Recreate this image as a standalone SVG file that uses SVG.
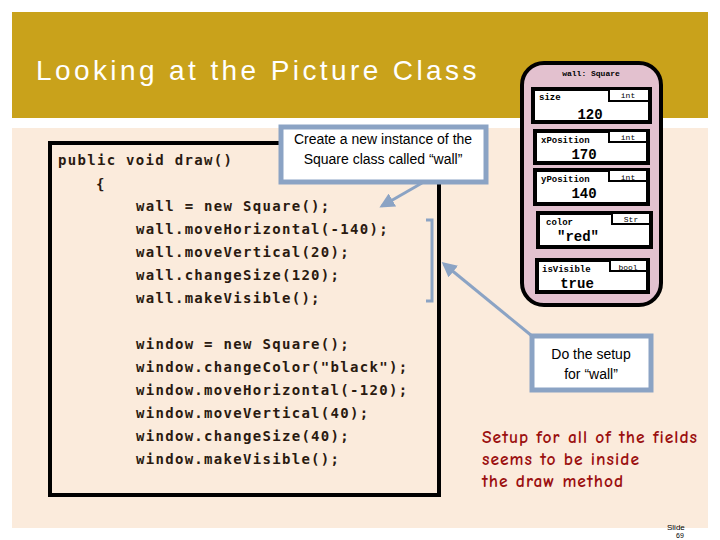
<svg xmlns="http://www.w3.org/2000/svg" width="720" height="540" viewBox="0 0 720 540">
<style>
.mono{font-family:"DejaVu Sans Mono","Liberation Mono",monospace;font-size:14px;fill:#2a1a10;font-weight:bold;letter-spacing:1.3px}
.fld{fill:#fff;stroke:#000;stroke-width:4}
.tab{fill:#fff;stroke:#000;stroke-width:2}
.fn{font-family:"Liberation Mono",monospace;font-size:9px;font-weight:bold}
.fv{font-family:"Liberation Mono",monospace;font-size:14px;font-weight:bold;text-anchor:middle}
.ty{font-family:"Liberation Mono",monospace;font-size:8px;text-anchor:middle}
.call{fill:#fff;stroke:#8ba3c4;stroke-width:5}
.ct{font-family:"Liberation Sans Narrow","Liberation Sans",sans-serif;font-size:14px;text-anchor:middle;fill:#000}
.conn{stroke:#8ba3c4;stroke-width:3;fill:none}
.red{font-family:"Comic Neue","Liberation Sans",sans-serif;font-size:17.5px;fill:#9b1010;font-weight:bold;letter-spacing:1px}
</style>
<defs><marker id="ah" markerWidth="5" markerHeight="5" refX="4" refY="2.5" orient="auto"><path d="M0,0 L5,2.5 L0,5 Z" fill="#8ba3c4"/></marker></defs>
<rect width="720" height="540" fill="#fff"/>
<rect x="12" y="12" width="696" height="106" fill="#c9a21b"/>
<rect x="12" y="128" width="696" height="400" fill="#fbebdc"/>
<text x="36" y="80" font-family="Liberation Sans Narrow,Liberation Sans,sans-serif" font-size="28" fill="#fff" letter-spacing="3.4">Looking at the Picture Class</text>
<g id="code">
<rect x="50" y="143" width="389" height="352" fill="none" stroke="#000" stroke-width="4"/>
<rect x="281" y="127" width="205" height="55" class="call"/>
<text class="mono" x="58" y="165">public void draw()</text>
<text class="mono" x="96" y="189">{</text>
<text class="mono" x="136" y="211">wall = new Square();</text>
<text class="mono" x="136" y="234">wall.moveHorizontal(-140);</text>
<text class="mono" x="136" y="257">wall.moveVertical(20);</text>
<text class="mono" x="136" y="280">wall.changeSize(120);</text>
<text class="mono" x="136" y="303">wall.makeVisible();</text>
<text class="mono" x="136" y="349">window = new Square();</text>
<text class="mono" x="136" y="372">window.changeColor("black");</text>
<text class="mono" x="136" y="395">window.moveHorizontal(-120);</text>
<text class="mono" x="136" y="418">window.moveVertical(40);</text>
<text class="mono" x="136" y="441">window.changeSize(40);</text>
<text class="mono" x="136" y="464">window.makeVisible();</text>
</g>
<g id="callout1">
<text class="ct" x="383" y="144">Create a new instance of the</text>
<text class="ct" x="383" y="164">Square class called “wall”</text>
</g>
<g id="wall">
<rect x="522" y="63" width="139" height="242" rx="22" fill="#e3c1cf" stroke="#000" stroke-width="4"/>
<text x="591" y="76" class="ty" font-weight="bold" font-size="10">wall: Square</text>
<rect class="fld" x="533" y="89" width="117" height="33"/><rect class="tab" x="609" y="89" width="40" height="12"/>
<text class="fn" x="539" y="100" font-size="11">size</text><text class="ty" x="628" y="98">int</text><text class="fv" x="590" y="119">120</text>
<rect class="fld" x="535" y="131" width="113" height="32"/><rect class="tab" x="609" y="131" width="38" height="11"/>
<text class="fn" x="541" y="143" font-size="8">xPosition</text><text class="ty" x="628" y="140">int</text><text class="fv" x="584" y="159">170</text>
<rect class="fld" x="535" y="170" width="113" height="34"/><rect class="tab" x="609" y="170" width="38" height="11"/>
<text class="fn" x="541" y="182" font-size="8">yPosition</text><text class="ty" x="628" y="180">int</text><text class="fv" x="584" y="198">140</text>
<rect class="fld" x="538" y="213" width="113" height="34"/><rect class="tab" x="612" y="213" width="38" height="11"/>
<text class="fn" x="546" y="225" font-size="8">color</text><text class="ty" x="631" y="222">Str</text><text class="fv" x="578" y="241">"red"</text>
<rect class="fld" x="537" y="260" width="111" height="32"/><rect class="tab" x="610" y="260" width="37" height="11"/>
<text class="fn" x="542" y="272" font-size="8">isVisible</text><text class="ty" x="628" y="270" font-size="6">bool</text><text class="fv" x="577" y="288">true</text>
</g>
<g id="callout2">
<rect x="532" y="336" width="119" height="54" class="call"/>
<text class="ct" x="591" y="359">Do the setup</text>
<text class="ct" x="591" y="379">for “wall”</text>
</g>
<g id="connectors">
<line class="conn" x1="422" y1="183" x2="382" y2="206" marker-end="url(#ah)"/>
<path class="conn" d="M426,220 H432 V301 H426" stroke-width="2"/>
<line class="conn" x1="532" y1="336" x2="444" y2="264" marker-end="url(#ah)"/>
</g>
<text class="red" x="482" y="443">Setup for all of the fields</text>
<text class="red" x="482" y="465">seems to be inside</text>
<text class="red" x="482" y="487">the draw method</text>
<text x="667" y="530" font-family="Liberation Sans Narrow,Liberation Sans,sans-serif" font-size="8">Slide</text>
<text x="676" y="538" font-family="Liberation Sans Narrow,Liberation Sans,sans-serif" font-size="7">69</text>
</svg>
